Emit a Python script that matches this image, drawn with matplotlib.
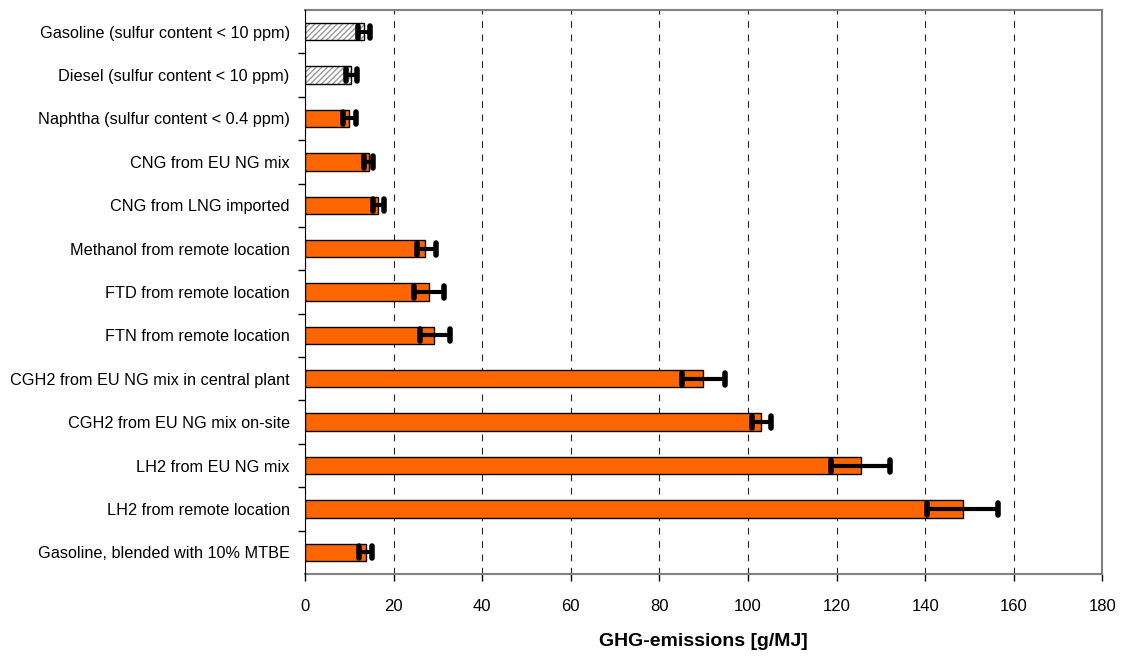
import matplotlib.pyplot as plt
from matplotlib.markers import MarkerStyle

# 字体：Arial 风格
plt.rcParams['font.family'] = ['Liberation Sans', 'DejaVu Sans']

# 数据
labels = ['Gasoline (sulfur content < 10 ppm)', 'Diesel (sulfur content < 10 ppm)',
          'Naphtha (sulfur content < 0.4 ppm)', 'CNG from EU NG mix',
          'CNG from LNG imported', 'Methanol from remote location',
          'FTD from remote location', 'FTN from remote location',
          'CGH2 from EU NG mix in central plant', 'CGH2 from EU NG mix on-site',
          'LH2 from EU NG mix', 'LH2 from remote location',
          'Gasoline, blended with 10% MTBE']
values = [13.3, 10.5, 9.9, 14.5, 16.6, 27.1, 27.9, 29.2, 89.8, 102.9, 125.6, 148.6, 13.8]
err_low = [12.0, 9.2, 8.6, 13.3, 15.4, 25.2, 24.6, 26.0, 85.2, 101.0, 118.8, 140.5, 12.2]
err_high = [14.7, 11.7, 11.5, 15.4, 17.9, 29.5, 31.4, 32.8, 94.8, 105.2, 132.1, 156.4, 15.2]
hatched = [True, True] + [False] * 11

fig = plt.figure(figsize=(11.29, 6.57), dpi=100)
ax = fig.add_axes([0.2701, 0.1263, 0.7064, 0.8585])

pos = list(range(len(labels)))
for i in pos:
    if hatched[i]:
        ax.barh(i, values[i], height=0.4, color='white', edgecolor='#999999',
                hatch='//////', linewidth=0, zorder=2)
        ax.barh(i, values[i], height=0.4, fill=False, edgecolor='black',
                linewidth=1.0, zorder=3)
    else:
        ax.barh(i, values[i], height=0.4, color='#FF6600', edgecolor='black',
                linewidth=1.0, zorder=3)

xerr = [[v - lo for v, lo in zip(values, err_low)],
        [hi - v for v, hi in zip(values, err_high)]]
eb = ax.errorbar(values, pos, xerr=xerr, fmt='none', ecolor='black', elinewidth=3,
                 capsize=4.5, capthick=4, zorder=4)
# 误差线端帽做成圆头
for cl in eb[1]:
    cl.set_marker(MarkerStyle('|', capstyle='round'))

ax.set_xlim(0, 180)
ax.set_ylim(len(labels) - 0.5, -0.5)
ax.set_xticks(range(0, 181, 20))
ax.set_yticks([p + 0.5 for p in pos[:-1]], minor=False)
ax.set_yticklabels([])
ax.set_yticks(pos, labels=labels, minor=True)
ax.tick_params(axis='y', which='minor', length=0, pad=11, labelsize=11.7)
ax.tick_params(axis='y', which='major', length=5, direction='out', width=1)
ax.tick_params(axis='x', length=5, direction='out', width=1, labelsize=12, pad=13)

ax.grid(axis='x', color='#222222', linestyle=(0, (6, 6)), linewidth=0.8, zorder=1)
for s in ['top', 'right', 'bottom']:
    ax.spines[s].set_color('#808080')
    ax.spines[s].set_linewidth(1.5)
ax.spines['left'].set_color('black')
ax.spines['left'].set_zorder(5)

ax.set_xlabel('GHG-emissions [g/MJ]', fontsize=14, fontweight='bold', labelpad=14)

fig.savefig('out.png', dpi=100)
